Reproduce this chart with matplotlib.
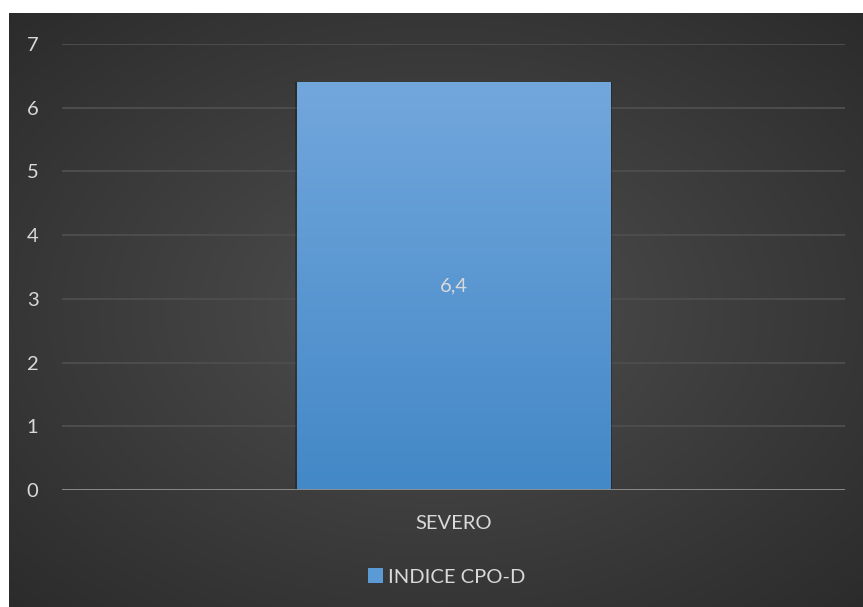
import numpy as np
import matplotlib
matplotlib.use('Agg')
import matplotlib.pyplot as plt
from matplotlib.patches import Patch

categories = ['SEVERO']
values = [6.4]
value_labels = ['6,4']
series_name = 'INDICE CPO-D'
yticks = [0, 1, 2, 3, 4, 5, 6, 7]

plt.rcParams['font.family'] = ['Lato', 'DejaVu Sans']
text_color = '#d9d9d9'

fig = plt.figure(figsize=(8.63, 6.07), dpi=100)
fig.patch.set_facecolor('white')

# dark panel with radial gradient
bg = fig.add_axes([9 / 863, 0, 1 - 9 / 863, 1 - 13 / 607])
yy, xx = np.mgrid[-1:1:300j, -1:1:400j]
r = np.sqrt(xx ** 2 + yy ** 2) / np.sqrt(2)
shade = 0.31 - 0.14 * r
bg.imshow(np.dstack([shade, shade, shade]), aspect='auto', extent=[0, 1, 0, 1])
bg.set_axis_off()

ax = fig.add_axes([62 / 863, (607 - 490) / 607, (845 - 62) / 863, (490 - 44) / 607])
ax.patch.set_alpha(0)
ax.set_xlim(-0.5, 0.5)
ax.set_ylim(0, 7)

x = np.arange(len(categories))
bars = ax.bar(x, values, width=0.40, color='#5b9bd5', zorder=3)

# vertical gradient inside the bar
grad = np.linspace(0, 1, 256).reshape(-1, 1)
c_top = np.array([0x72, 0xa7, 0xdc]) / 255
c_bot = np.array([0x43, 0x88, 0xc7]) / 255
img = c_bot + (c_top - c_bot) * grad[..., None]
for b in bars:
    bx, bw, bh = b.get_x(), b.get_width(), b.get_height()
    # soft shadow
    ax.bar(bx + bw / 2, bh, width=bw + 0.006, color='black', alpha=0.25, zorder=2)
    im = ax.imshow(img, extent=[bx, bx + bw, 0, bh], origin='lower', aspect='auto', zorder=4)
    im.set_clip_path(b)

for xi, v, lab in zip(x, values, value_labels):
    ax.text(xi, v / 2, lab, ha='center', va='center', color=text_color, fontsize=14.5, zorder=5)

ax.set_yticks(yticks)
ax.yaxis.grid(True, color='#4d4d4d', linewidth=1.4, zorder=0)
ax.axhline(0, color='#8f8f8f', linewidth=2, zorder=6)
ax.set_xticks(x)
ax.set_xticklabels(categories)
ax.tick_params(axis='both', length=0, colors=text_color, labelsize=14.5)
ax.tick_params(axis='y', pad=17)
ax.tick_params(axis='x', pad=18)
for s in ax.spines.values():
    s.set_visible(False)

handles = [Patch(facecolor='#5b9bd5', edgecolor='none', label=series_name)]
leg = fig.legend(handles=handles, loc='center', bbox_to_anchor=(447 / 863, 1 - 577 / 607),
                 frameon=False, fontsize=14.5, handlelength=0.75, handleheight=0.75,
                 handletextpad=0.25)
for t in leg.get_texts():
    t.set_color(text_color)

fig.savefig('out.png', dpi=100)
